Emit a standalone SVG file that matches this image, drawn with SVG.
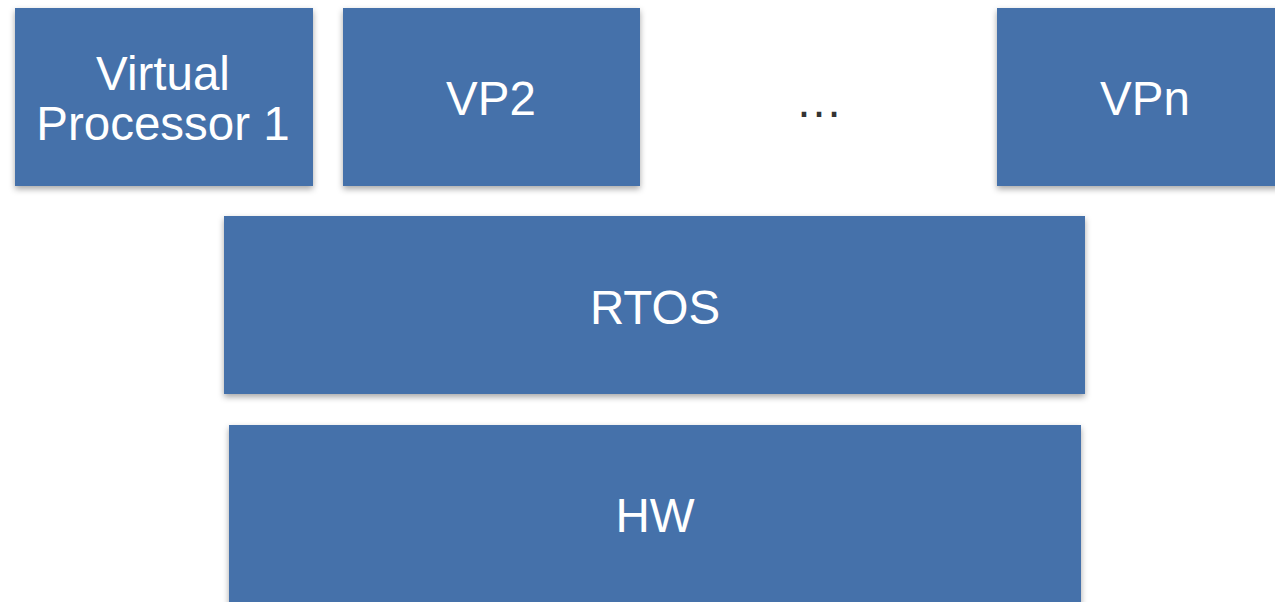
<svg xmlns="http://www.w3.org/2000/svg" width="1275" height="602" viewBox="0 0 1275 602">
<defs>
<filter id="sh" x="-5%" y="-10%" width="110%" height="125%">
<feDropShadow dx="0" dy="3" stdDeviation="3" flood-color="#000" flood-opacity="0.35"/>
</filter>
<style>
.box{fill:#4471aa;filter:url(#sh)}
.t{font-family:"Liberation Sans",Arial,sans-serif;font-size:47.5px;fill:#fff;text-anchor:middle}
</style>
</defs>
<rect width="1275" height="602" fill="#fff"/>
<g id="vp1"><rect class="box" x="15" y="8" width="298" height="178"/>
<text class="t" x="163" y="90">Virtual</text><text class="t" x="163" y="140">Processor 1</text></g>
<g id="vp2"><rect class="box" x="343" y="8" width="297" height="178"/><text class="t" x="491" y="115">VP2</text></g>
<g id="dots"><text class="t" x="819" y="117" style="fill:#333">…</text></g>
<g id="vpn"><rect class="box" x="997" y="8" width="290" height="178"/><text class="t" x="1145" y="115">VPn</text></g>
<g id="rtos"><rect class="box" x="224" y="216" width="861" height="178"/><text class="t" x="655" y="324">RTOS</text></g>
<g id="hw"><rect class="box" x="229" y="425" width="852" height="190"/><text class="t" x="655" y="532">HW</text></g>
<g id="connectors"/>
</svg>
